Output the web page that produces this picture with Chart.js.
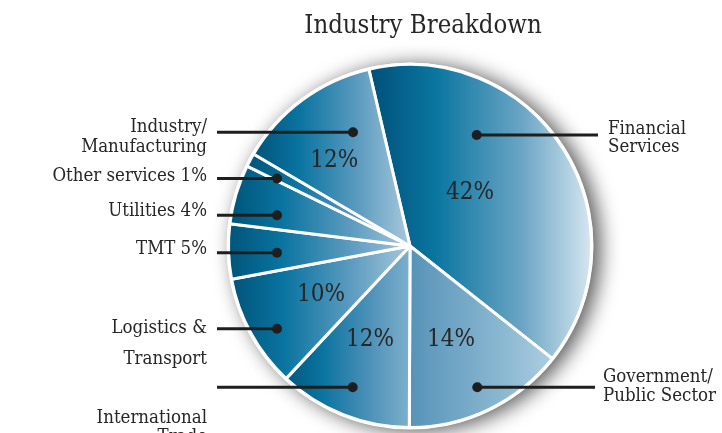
<!DOCTYPE html>
<html><head><meta charset="utf-8">
<script src="https://cdn.jsdelivr.net/npm/chart.js@4/dist/chart.umd.min.js"></script>
<style>html,body{margin:0;padding:0;background:#fff;overflow:hidden}#wrap{width:722px;height:433px;position:relative}</style>
</head><body><div id="wrap"><canvas id="c" width="722" height="433"></canvas></div>
<script>
// ---- data ----
const categories = ['Financial Services','Government/Public Sector','International Trade','Logistics & Transport','TMT','Utilities','Other services','Industry/Manufacturing'];
const shares = [39.3, 14.4, 11.9, 10.1, 4.9, 5.3, 1.2, 12.9];          // slice sizes as drawn
const pctLabels = ['42%', '14%', '12%', '10%', '', '', '', '12%'];       // printed inside slices
const labelLines = [['Financial','Services'],['Government/','Public Sector'],['International','Trade'],['Logistics &','Transport'],['TMT 5%'],['Utilities 4%'],['Other services 1%'],['Industry/','Manufacturing']];
const titleText = 'Industry Breakdown';

// ---- styling / layout ----
const startAngle = -13.1;
const FONT = '"DejaVu Serif Condensed", "Liberation Serif", serif';
const TEXT = '#262626';
const gradStops = [
  ['#004f78','#0a76a0','#6aa4c4','#d8e8f1'],
  ['#5693b8','#6fa4c4','#8dbad2','#b0cee0'],
  ['#00577f','#0a74a0','#4e91b8','#7eb0cc'],
  ['#005379','#0a74a0','#5e9cc0','#a8c8dc'],
  ['#005379','#0a74a0','#5e9cc0','#a5c6da'],
  ['#005379','#0a74a0','#5e9cc0','#a5c6da'],
  ['#005379','#0a74a0','#5e9cc0','#a5c6da'],
  ['#005379','#0a74a0','#5e9cc0','#a8c8dc']
];
// callout layout: dot position as fraction of radius from pie centre
const callouts = [
 {side:'right', dot:[0.3645,-0.6066], lineEnd:598, textX:608, base:[134,152]},
 {side:'right', dot:[0.3678,0.7716], lineEnd:595, textX:603, base:[382,401]},
 {side:'left',  dot:[-0.3131,0.7716], lineEnd:217, textX:207, base:[423,442]},
 {side:'left',  dot:[-0.7268,0.4525], lineEnd:217, textX:207, base:[333,364]},
 {side:'left',  dot:[-0.7268,0.0372], lineEnd:217, textX:207, base:[254]},
 {side:'left',  dot:[-0.7268,-0.1683], lineEnd:217, textX:207, base:[216]},
 {side:'left',  dot:[-0.7268,-0.3689], lineEnd:217, textX:207, base:[181]},
 {side:'left',  dot:[-0.3115,-0.6219], lineEnd:217, textX:207, base:[132,152]}
];
const pctPos = [[0.328,-0.294],[0.224,0.507],[-0.219,0.505],[-0.486,0.261],null,null,null,[-0.414,-0.473]];

function sliceGradient(ctx) {
  const chart = ctx.chart, area = chart.chartArea, i = ctx.dataIndex;
  if (!area || i === undefined) return '#1a6f99';
  const cx = (area.left + area.right) / 2;
  const r = Math.min(area.right - area.left, area.bottom - area.top) / 2;
  const total = shares.reduce((a, b) => a + b, 0);
  let s = startAngle;
  for (let k = 0; k < i; k++) s += shares[k] / total * 360;
  const e = s + shares[i] / total * 360;
  let minX = cx, maxX = cx;
  for (let a = s; a <= e + 0.001; a += 0.5) {
    const x = cx + r * Math.sin(Math.min(a, e) * Math.PI / 180);
    minX = Math.min(minX, x); maxX = Math.max(maxX, x);
  }
  const xe = cx + r * Math.sin(e * Math.PI / 180);
  minX = Math.min(minX, xe); maxX = Math.max(maxX, xe);
  const g = chart.ctx.createLinearGradient(minX, 0, maxX, 0);
  const st = gradStops[i];
  g.addColorStop(0, st[0]); g.addColorStop(0.3, st[1]); g.addColorStop(0.68, st[2]); g.addColorStop(1, st[3]);
  return g;
}

const decor = {
  id: 'decor',
  beforeDatasetsDraw(chart) {
    const arc = chart.getDatasetMeta(0).data[0];
    const c = chart.ctx;
    c.save();
    c.beginPath();
    c.arc(arc.x, arc.y, arc.outerRadius + 2, 0, Math.PI * 2);
    c.fillStyle = '#fff';
    c.shadowColor = 'rgba(0,0,0,0.65)';
    c.shadowBlur = 20; c.shadowOffsetX = 7; c.shadowOffsetY = 2;
    c.fill();
    c.restore();
  },
  afterDraw(chart) {
    const c = chart.ctx;
    const arc = chart.getDatasetMeta(0).data[0];
    const cx = arc.x, cy = arc.y, R = arc.outerRadius + 1.5;
    c.save();
    c.fillStyle = TEXT;
    c.textAlign = 'center'; c.textBaseline = 'alphabetic';
    c.font = '25.5px ' + FONT;
    c.fillText(titleText, 423, 33);
    // percentages
    c.font = '24px ' + FONT; c.textBaseline = 'middle';
    pctLabels.forEach((t, i) => {
      if (!t || !pctPos[i]) return;
      c.fillText(t, cx + pctPos[i][0] * R, cy + pctPos[i][1] * R + 1);
    });
    // callouts
    c.textBaseline = 'alphabetic';
    c.font = '18.5px ' + FONT;
    callouts.forEach((co, i) => {
      const dx = cx + co.dot[0] * R, dy = cy + co.dot[1] * R;
      c.strokeStyle = '#1e1e1e'; c.lineWidth = 3;
      c.beginPath(); c.moveTo(co.lineEnd, dy); c.lineTo(dx, dy); c.stroke();
      c.fillStyle = '#1e1e1e';
      c.beginPath(); c.arc(dx, dy, 5, 0, Math.PI * 2); c.fill();
      c.fillStyle = TEXT;
      c.textAlign = co.side === 'left' ? 'right' : 'left';
      labelLines[i].forEach((ln, j) => c.fillText(ln, co.textX, co.base[j]));
    });
    c.restore();
  }
};

new Chart(document.getElementById('c'), {
  type: 'pie',
  data: {
    labels: categories,
    datasets: [{ data: shares, backgroundColor: sliceGradient, borderColor: '#ffffff', borderWidth: 3 }]
  },
  options: {
    responsive: false,
    animation: false,
    rotation: startAngle,
    layout: { padding: { left: 227, right: 129, top: 63, bottom: 4 } },
    plugins: { legend: { display: false }, tooltip: { enabled: false }, title: { display: false } }
  },
  plugins: [decor]
});
</script>
</body></html>
